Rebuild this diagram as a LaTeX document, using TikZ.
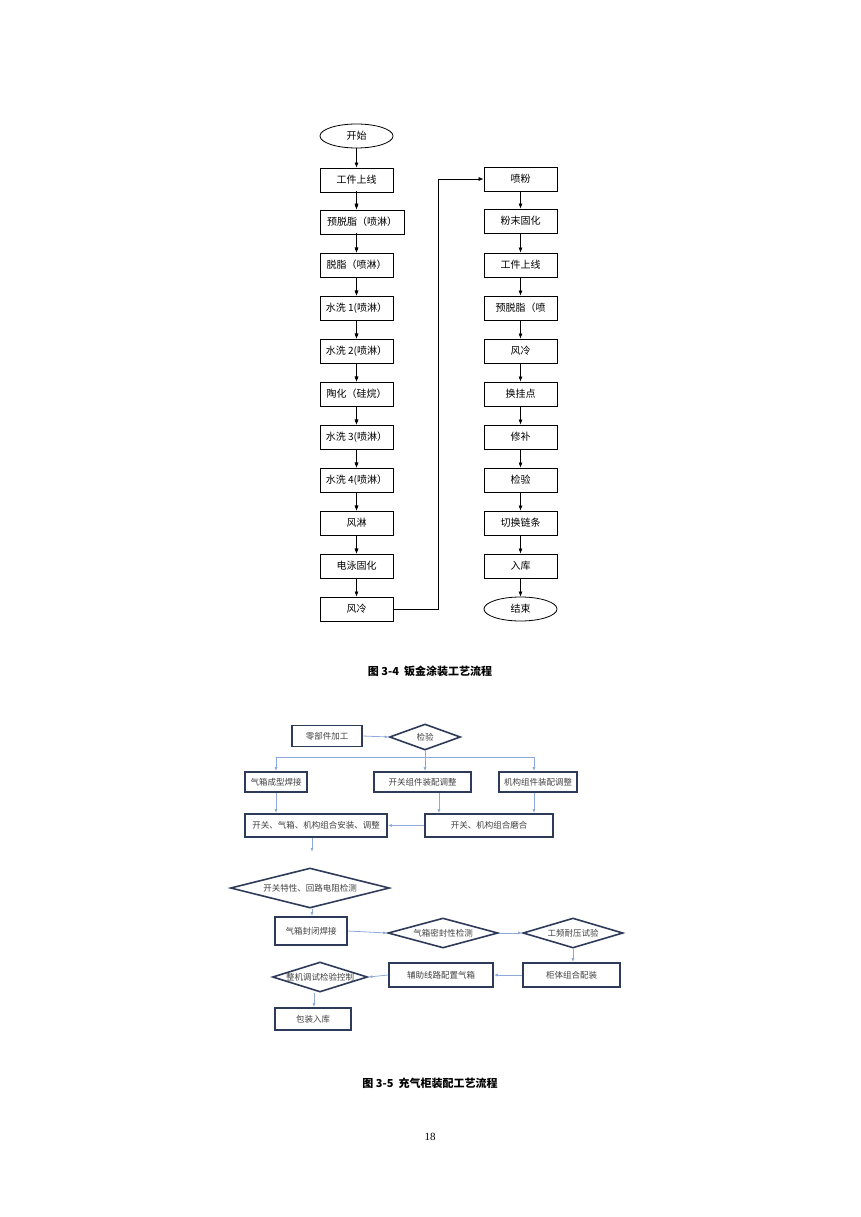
\documentclass[tikz,border=0pt]{standalone}
\usepackage{fontspec}
\setmainfont{Liberation Serif}
\newfontfamily\cjk{Noto Sans CJK SC}
\usetikzlibrary{shapes.geometric,arrows.meta}
\definecolor{navy}{HTML}{2E3A5A}
\definecolor{lblue}{HTML}{8EA9DB}
\tikzset{
 bx/.style={draw,line width=0.8pt,minimum height=24pt,font=\cjk\fontsize{10}{11}\selectfont,inner sep=1pt},
 el/.style={draw,ellipse,line width=0.8pt,minimum width=73pt,minimum height=24pt,inner sep=0pt,font=\cjk\fontsize{10}{11}\selectfont},
 ar/.style={-{Latex[length=5pt,width=4pt]},line width=0.7pt},
 bb/.style={draw=navy,line width=1.6pt,minimum height=21pt,font=\cjk\fontsize{8.5}{9}\selectfont,text=black!75,inner sep=1pt},
 dm/.style={draw=navy,line width=1.6pt,diamond,aspect=3.4,inner sep=0pt,font=\cjk\fontsize{8.5}{9}\selectfont,text=black!75},
 la/.style={-{Latex[length=4pt,width=3pt]},draw=lblue,line width=0.8pt},
}
\begin{document}
\begin{tikzpicture}[x=1pt,y=-1pt]
\useasboundingbox (0,0) rectangle (860,1217);
% ---- diagram 1, left column
\node[el] (s) at (356.5,136) {开始};
\node[bx,minimum width=73pt] (l1) at (356.5,180) {工件上线};
\node[bx,minimum width=84pt] (l2) at (362,222) {预脱脂（喷淋）};
\node[bx,minimum width=73pt] (l3) at (356.5,265) {脱脂（喷淋）};
\node[bx,minimum width=73pt] (l4) at (356.5,308) {水洗 1(喷淋）};
\node[bx,minimum width=73pt] (l5) at (356.5,351) {水洗 2(喷淋）};
\node[bx,minimum width=73pt] (l6) at (356.5,394) {陶化（硅烷）};
\node[bx,minimum width=73pt] (l7) at (356.5,437) {水洗 3(喷淋）};
\node[bx,minimum width=73pt] (l8) at (356.5,480) {水洗 4(喷淋）};
\node[bx,minimum width=73pt] (l9) at (356.5,523) {风淋};
\node[bx,minimum width=73pt] (l10) at (356.5,566) {电泳固化};
\node[bx,minimum width=73pt] (l11) at (356.5,609) {风冷};
% right column
\node[bx,minimum width=73pt] (r1) at (520.5,179) {喷粉};
\node[bx,minimum width=73pt] (r2) at (520.5,221) {粉末固化};
\node[bx,minimum width=73pt] (r3) at (520.5,265) {工件上线};
\node[bx,minimum width=73pt] (r4) at (520.5,308) {预脱脂（喷};
\node[bx,minimum width=73pt] (r5) at (520.5,351) {风冷};
\node[bx,minimum width=73pt] (r6) at (520.5,394) {换挂点};
\node[bx,minimum width=73pt] (r7) at (520.5,437) {修补};
\node[bx,minimum width=73pt] (r8) at (520.5,480) {检验};
\node[bx,minimum width=73pt] (r9) at (520.5,523) {切换链条};
\node[bx,minimum width=73pt] (r10) at (520.5,566) {入库};
\node[el] (e) at (520.5,609) {结束};
\draw[ar] (s) -- (l1);
\draw[ar] (l1) -- (l1|-l2.north);
\foreach \a/\b in {l2/l3,l3/l4,l4/l5,l5/l6,l6/l7,l7/l8,l8/l9,l9/l10,l10/l11,r1/r2,r2/r3,r3/r4,r4/r5,r5/r6,r6/r7,r7/r8,r8/r9,r9/r10}
  \draw[ar] (\a.south-|l1) ++(0,0) -- (\b.north-|l1);
\foreach \a/\b in {r1/r2,r2/r3,r3/r4,r4/r5,r5/r6,r6/r7,r7/r8,r8/r9,r9/r10}
  \draw[ar] (\a) -- (\b);
\draw[ar] (r10) -- (e);
\draw[ar] (l11.east) -- (438,609) |- (r1.west);
\node[font=\cjk\bfseries\fontsize{11}{12}\selectfont] (c1) at (430,671) {图 3-4\ \ 钣金涂装工艺流程};
% ---- diagram 2
\node[bb,minimum width=70pt] (a1) at (327,736) {零部件加工};
\node[dm,minimum width=71pt,minimum height=26pt] (a2) at (425,737) {检验};
\node[bb,minimum width=62pt,minimum height=20pt] (b1) at (276,782) {气箱成型焊接};
\node[bb,minimum width=97pt,minimum height=20pt] (b2) at (422.5,782) {开关组件装配调整};
\node[bb,minimum width=78pt,minimum height=20pt] (b3) at (538,782) {机构组件装配调整};
\node[bb,minimum width=142pt,minimum height=23pt] (c1b) at (316,825.5) {开关、气箱、机构组合安装、调整};
\node[bb,minimum width=128pt,minimum height=23pt] (c2) at (489,825.5) {开关、机构组合磨合};
\coordinate (cend) at (312,852);
\node[dm,minimum width=159pt,minimum height=40pt] (d1) at (310,888) {开关特性、回路电阻检测};
\node[bb,minimum width=72pt,minimum height=28pt] (f1) at (311,931) {气箱封闭焊接};
\node[dm,minimum width=110pt,minimum height=30pt] (f2) at (443,933) {气箱密封性检测};
\node[dm,minimum width=100pt,minimum height=30pt] (f3) at (573,933) {工频耐压试验};
\node[bb,minimum width=97pt,minimum height=24pt] (g3) at (571.5,975) {柜体组合配装};
\node[bb,minimum width=104pt,minimum height=24pt] (g2) at (441,975) {辅助线路配置气箱};
\node[dm,minimum width=95pt,minimum height=30pt] (g1) at (320,977) {整机调试检验控制};
\node[bb,minimum width=76pt,minimum height=22pt] (h1) at (313,1019) {包装入库};
\draw[la] (a1.east) -- (a2.west);
\draw[draw=lblue,line width=0.8pt] (a2.south) -- (425,757);
\draw[la] (276,757) -- (b1.north);
\draw[la] (a2.south) -- (b2.north-|a2);
\draw[la] (276,757) -- (534,757) -- (b3.north-|534,0);
\draw[la] (b1) -- (c1b.north-|b1);
\draw[la] (b2.south-|439,0) -- (c2.north-|439,0);
\draw[la] (b3.south-|534,0) -- (c2.north-|534,0);
\draw[la] (c2.west) -- (c1b.east);
\draw[la] (c1b.south-|cend) -- (cend);
\draw[la] (d1.south-|312,0) -- (f1.north-|312,0);
\draw[la] (f1.east) -- (f2.west);
\draw[la] (f2.east) -- (f3.west);
\draw[la] (f3.south) -- (g3.north-|f3);
\draw[la] (g3.west) -- (g2.east);
\draw[la] (g2.west) -- (g1.east);
\draw[la] (g1.south-|314,0) -- (h1.north-|314,0);
\node[font=\cjk\bfseries\fontsize{11}{12}\selectfont] (cap2) at (430,1083) {图 3-5\ \ 充气柜装配工艺流程};
\node[font=\fontsize{11}{12}\selectfont] (pg) at (430,1137) {18};
\end{tikzpicture}
\end{document}
